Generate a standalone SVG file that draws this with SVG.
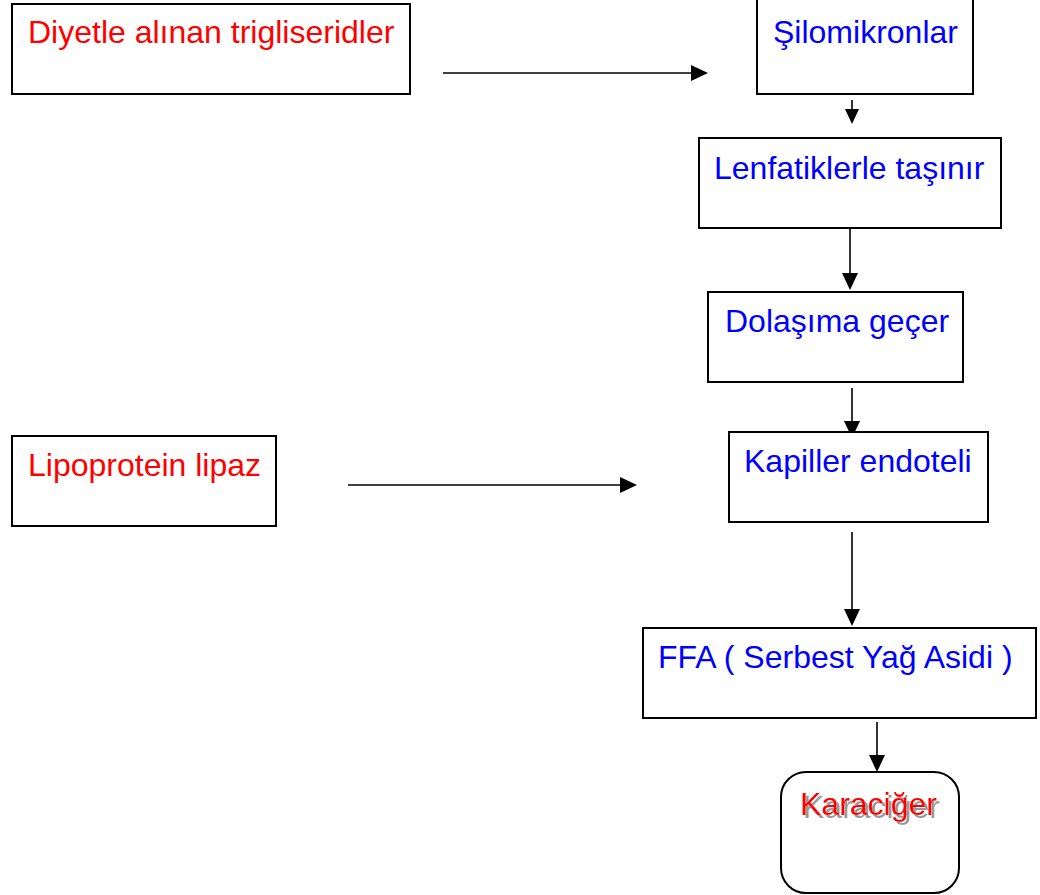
<svg xmlns="http://www.w3.org/2000/svg" width="1040" height="895" viewBox="0 0 1040 895">
<defs>
<filter id="sh" x="-10%" y="-20%" width="130%" height="150%">
<feDropShadow dx="3" dy="3" stdDeviation="0.6" flood-color="#999999" flood-opacity="1"/>
</filter>
<style>
.box{fill:#fff;stroke:#000;stroke-width:2}
.t{font-family:"Liberation Sans",Arial,sans-serif;font-size:32px}
.red{fill:#ff0000}
.blue{fill:#0000ff}
.ln{stroke:#000;stroke-width:1.6;fill:none}
.hd{fill:#000}
</style>
</defs>
<rect width="1040" height="895" fill="#fff"/>
<g id="connectors">
<line class="ln" x1="443" y1="73" x2="694" y2="73"/>
<path class="hd" d="M691,65 L708,73 L691,81 z"/>
<line class="ln" x1="852" y1="100" x2="852" y2="112"/>
<path class="hd" d="M845,109 L852,124 L859,109 z"/>
<line class="ln" x1="850" y1="220" x2="850" y2="276"/>
<path class="hd" d="M842,273 L850,290 L858,273 z"/>
<line class="ln" x1="852" y1="388" x2="852" y2="424"/>
<path class="hd" d="M844,421 L852,438 L860,421 z"/>
<line class="ln" x1="348" y1="485" x2="624" y2="485"/>
<path class="hd" d="M620,477 L637,485 L620,493 z"/>
<line class="ln" x1="852" y1="532" x2="852" y2="612"/>
<path class="hd" d="M844,609 L852,626 L860,609 z"/>
<line class="ln" x1="877" y1="722" x2="877" y2="758"/>
<path class="hd" d="M869,755 L877,772 L885,755 z"/>
</g>
<g id="diyetle">
<rect class="box" x="12" y="4" width="398" height="90"/>
<text class="t red" x="28" y="43">Diyetle alınan trigliseridler</text>
</g>
<g id="silomikronlar">
<rect class="box" x="757" y="-2" width="216" height="96"/>
<text class="t blue" x="773" y="43">Şilomikronlar</text>
</g>
<g id="lenfatiklerle">
<rect class="box" x="699" y="138" width="302" height="90"/>
<text class="t blue" x="714" y="179">Lenfatiklerle taşınır</text>
</g>
<g id="dolasima">
<rect class="box" x="708" y="292" width="255" height="90"/>
<text class="t blue" x="725" y="332">Dolaşıma geçer</text>
</g>
<g id="kapiller">
<rect class="box" x="729" y="432" width="259" height="90"/>
<text class="t blue" x="744" y="472">Kapiller endoteli</text>
</g>
<g id="lipoprotein">
<rect class="box" x="12" y="436" width="264" height="90"/>
<text class="t red" x="28" y="476">Lipoprotein lipaz</text>
</g>
<g id="ffa">
<rect class="box" x="643" y="628" width="393" height="90"/>
<text class="t blue" x="658" y="668">FFA ( Serbest Yağ Asidi )</text>
</g>
<g id="karaciger">
<rect class="box" x="781" y="772" width="178" height="121" rx="25" ry="25"/>
<text class="t red" x="800" y="815" filter="url(#sh)">Karaciğer</text>
</g>
</svg>
